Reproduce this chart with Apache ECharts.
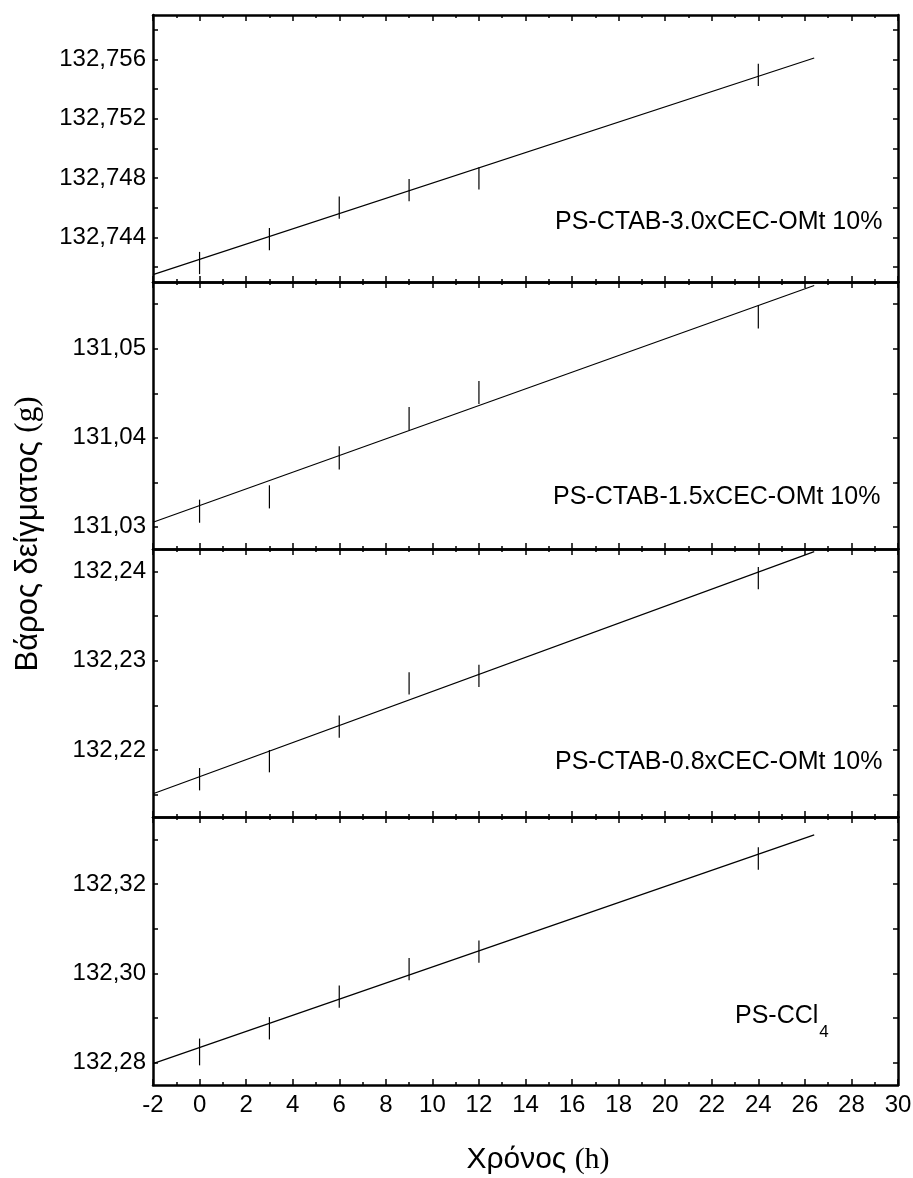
<!DOCTYPE html>
<html>
<head>
<meta charset="utf-8">
<script src="https://cdn.jsdelivr.net/npm/echarts@6/dist/echarts.min.js"></script>
<style>
  html, body { margin: 0; padding: 0; background: #fff; }
  #chart { width: 913px; height: 1178px; }
</style>
</head>
<body>
<div id="chart"></div>
<script>
// Sampling times (h)
const hours = [0, 3, 6, 9, 12, 24];

// Sample weight (g) at each time, one array per sample
const weightCTAB30 = [132.74228, 132.74389, 132.74601, 132.74719, 132.74799, 132.75497];
const weightCTAB15 = [131.03175, 131.03336, 131.03774, 131.04215, 131.04508, 131.05358];
const weightCTAB08 = [132.21673, 132.21875, 132.22261, 132.22746, 132.22829, 132.23924];
const weightCCl4   = [132.2824, 132.2877, 132.2948, 132.30095, 132.30486, 132.3257];

// Half-length of the error bars (g)
const errCTAB30 = [0.00075, 0.00075, 0.00075, 0.00075, 0.00075, 0.00075];
const errCTAB15 = [0.0013, 0.0013, 0.0013, 0.0013, 0.0013, 0.0013];
const errCTAB08 = [0.00125, 0.00125, 0.00125, 0.00125, 0.00125, 0.00125];
const errCCl4   = [0.003, 0.0025, 0.0025, 0.0025, 0.0025, 0.0025];

// Linear fit lines, end points [h, g]
const fitCTAB30 = [[-2, 132.7415], [26.4, 132.7561]];
const fitCTAB15 = [[-2, 131.0305], [26.4, 131.0571]];
const fitCTAB08 = [[-2, 132.2151], [26.4, 132.2422]];
const fitCCl4   = [[-2, 132.2798], [26.4, 132.3310]];

// Labelled y ticks of each panel
const yLabelsCTAB30 = [132.744, 132.748, 132.752, 132.756];
const yLabelsCTAB15 = [131.03, 131.04, 131.05];
const yLabelsCTAB08 = [132.22, 132.23, 132.24];
const yLabelsCCl4   = [132.28, 132.30, 132.32];

// Sample names
const sampleNames = ['PS-CTAB-3.0xCEC-OMt 10%', 'PS-CTAB-1.5xCEC-OMt 10%', 'PS-CTAB-0.8xCEC-OMt 10%', 'PS-CCl'];
const subscriptCCl4 = '4';

// Axis titles
const yTitle = 'Βάρος δείγματος ';
const yUnit = '(g)';
const xTitle = 'Χρόνος ';
const xUnit = '(h)';

// Panel layout (pixels) and axis ranges
const PLOT_LEFT = 153, PLOT_RIGHT = 15;
const panels = [
  { top: 15,  height: 267, min: 132.741,  max: 132.759,  step: 0.002, digits: 3, y: weightCTAB30, err: errCTAB30, fit: fitCTAB30, labels: yLabelsCTAB30, name: sampleNames[0], nx: 555, ny: 222 },
  { top: 282, height: 267, min: 131.0275, max: 131.0575, step: 0.005, digits: 2, y: weightCTAB15, err: errCTAB15, fit: fitCTAB15, labels: yLabelsCTAB15, name: sampleNames[1], nx: 553, ny: 497 },
  { top: 549, height: 268, min: 132.2125, max: 132.2425, step: 0.005, digits: 2, y: weightCTAB08, err: errCTAB08, fit: fitCTAB08, labels: yLabelsCTAB08, name: sampleNames[2], nx: 555, ny: 762 },
  { top: 817, height: 268, min: 132.275,  max: 132.335,  step: 0.01,  digits: 2, y: weightCCl4,   err: errCCl4,   fit: fitCCl4,   labels: yLabelsCCl4,   name: sampleNames[3], nx: 735, ny: 1018, sub: subscriptCCl4 }
];

const SANS = "'Liberation Sans', Arial, sans-serif";
const SERIF = "'Liberation Serif', 'Times New Roman', serif";
const FRAME_W = 2.5;
const TICK_FONT = 24;
const NAME_FONT = 25;

const grid = [], xAxis = [], yAxis = [], series = [], graphic = [];

panels.forEach((p, i) => {
  const isLast = i === panels.length - 1;
  // inset so that ticks sit half a step inside the frame
  const inset = p.height * (p.step / 2) / (p.max - p.min);

  // frame grid (data) and tick grid
  grid.push({ left: PLOT_LEFT, right: PLOT_RIGHT, top: p.top, height: p.height, containLabel: false, outerBoundsMode: 'none' });
  grid.push({ left: PLOT_LEFT, right: PLOT_RIGHT, top: p.top + inset, height: p.height - 2 * inset, containLabel: false, outerBoundsMode: 'none' });
  const gFrame = 2 * i, gTick = 2 * i + 1;

  const xBase = {
    type: 'value', min: -2, max: 30, interval: 2,
    splitLine: { show: false },
    axisLine: { show: true, onZero: false, lineStyle: { color: '#000', width: FRAME_W } },
    axisTick: { show: true, inside: true, length: 6, lineStyle: { color: '#000', width: 1.5 } },
    minorTick: { show: true, splitNumber: 2, length: 3, lineStyle: { color: '#000', width: 1.5 } }
  };
  // bottom x axis
  xAxis.push(Object.assign({}, xBase, {
    gridIndex: gFrame, position: 'bottom',
    axisLabel: { show: isLast, color: '#000', fontFamily: SANS, fontSize: TICK_FONT, margin: 8 }
  }));
  // top x axis
  xAxis.push(Object.assign({}, xBase, {
    gridIndex: gFrame, position: 'top', axisLabel: { show: false }
  }));
  // hidden x axis of the tick grid
  xAxis.push({ gridIndex: gTick, type: 'value', min: -2, max: 30, show: false });

  const xBottom = 3 * i;

  // data y axis (left frame line)
  yAxis.push({
    gridIndex: gFrame, type: 'value', min: p.min, max: p.max, position: 'left',
    splitLine: { show: false }, axisTick: { show: false }, axisLabel: { show: false },
    axisLine: { show: true, onZero: false, lineStyle: { color: '#000', width: FRAME_W } }
  });
  // right frame line
  yAxis.push({
    gridIndex: gFrame, type: 'value', min: p.min, max: p.max, position: 'right',
    splitLine: { show: false }, axisTick: { show: false }, axisLabel: { show: false },
    axisLine: { show: true, onZero: false, lineStyle: { color: '#000', width: FRAME_W } }
  });
  const tickMin = +(p.min + p.step / 2).toFixed(6);
  const tickMax = +(p.max - p.step / 2).toFixed(6);
  const tickAxis = {
    gridIndex: gTick, type: 'value', min: tickMin, max: tickMax, interval: p.step,
    splitLine: { show: false }, axisLine: { show: false, onZero: false },
    axisTick: { show: true, inside: true, length: 5, lineStyle: { color: '#000', width: 1.5 } }
  };
  // left ticks with labels
  yAxis.push(Object.assign({}, tickAxis, {
    position: 'left',
    axisLabel: {
      show: true, color: '#000', fontFamily: SANS, fontSize: TICK_FONT, margin: 7,
      showMinLabel: true, showMaxLabel: true,
      formatter: v => p.labels.some(l => Math.abs(l - v) < p.step / 10)
        ? v.toFixed(p.digits).replace('.', ',') : ''
    }
  }));
  // right ticks
  yAxis.push(Object.assign({}, tickAxis, { position: 'right', axisLabel: { show: false } }));

  const yData = 4 * i;

  // error bars
  series.push({
    type: 'custom', xAxisIndex: xBottom, yAxisIndex: yData,
    data: hours.map((h, k) => [h, p.y[k], p.err[k]]),
    dimensions: ['h', 'w', 'e'],
    encode: { x: 0, y: 1 },
    renderItem: (params, api) => {
      const x = api.value(0), y = api.value(1), e = api.value(2);
      const lo = api.coord([x, y - e]);
      const hi = api.coord([x, y + e]);
      return {
        type: 'line',
        shape: { x1: lo[0], y1: lo[1], x2: hi[0], y2: hi[1] },
        style: { stroke: '#000', lineWidth: 1.2 }
      };
    },
    silent: true
  });
  // fit line
  series.push({
    type: 'line', xAxisIndex: xBottom, yAxisIndex: yData,
    data: p.fit, symbol: 'none', clip: false, silent: true,
    lineStyle: { color: '#000', width: 1.2 }
  });

  // sample name
  if (p.sub) {
    graphic.push({
      type: 'text', x: p.nx, y: p.ny,
      style: {
        text: '{a|' + p.name + '}{s|' + p.sub + '}',
        verticalAlign: 'middle', align: 'left',
        rich: {
          a: { fontFamily: SANS, fontSize: NAME_FONT, lineHeight: 28, verticalAlign: 'top', fill: '#000' },
          s: { fontFamily: SANS, fontSize: 17, lineHeight: 17, verticalAlign: 'top', padding: [20, 0, 0, 1], fill: '#000' }
        }
      }
    });
  } else {
    graphic.push({
      type: 'text', x: p.nx, y: p.ny,
      style: { text: p.name, font: NAME_FONT + 'px ' + SANS, fill: '#000', align: 'left', verticalAlign: 'middle' }
    });
  }
});

// axis titles
graphic.push({
  type: 'text', x: 28, y: 534, rotation: Math.PI / 2,
  style: {
    text: '{a|' + yTitle + '}{b|' + yUnit + '}',
    align: 'center', verticalAlign: 'middle',
    rich: {
      a: { fontFamily: SANS, fontSize: 31, fill: '#000' },
      b: { fontFamily: SERIF, fontSize: 31, fill: '#000' }
    }
  }
});
graphic.push({
  type: 'text', x: 538, y: 1160,
  style: {
    text: '{a|' + xTitle + '}{b|' + xUnit + '}',
    align: 'center', verticalAlign: 'middle',
    rich: {
      a: { fontFamily: SANS, fontSize: 30, fill: '#000' },
      b: { fontFamily: SERIF, fontSize: 30, fill: '#000' }
    }
  }
});

const chart = echarts.init(document.getElementById('chart'), null, { renderer: 'canvas' });
chart.setOption({
  animation: false,
  backgroundColor: '#fff',
  grid, xAxis, yAxis, series, graphic
});
</script>
</body>
</html>
